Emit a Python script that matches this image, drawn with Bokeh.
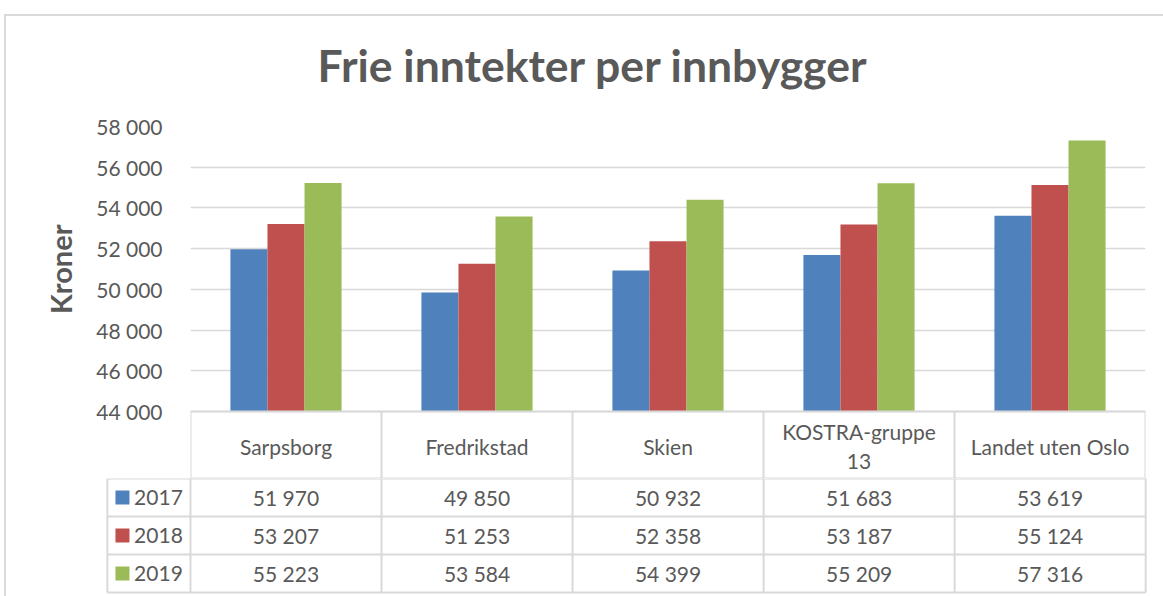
from bokeh.plotting import figure
from bokeh.models import (Range1d, FactorRange, FixedTicker, CustomJSTickFormatter,
                          ColumnDataSource, Title, InlineStyleSheet)
from bokeh.transform import dodge
from bokeh.core.properties import value
from bokeh.embed import file_html
from bokeh.resources import INLINE

# ---------------- data ----------------
title_text = "Frie inntekter per innbygger"
y_label = "Kroner"
categories = ["Sarpsborg", "Fredrikstad", "Skien", "KOSTRA-gruppe 13", "Landet uten Oslo"]
header_labels = ["Sarpsborg", "Fredrikstad", "Skien", "KOSTRA-gruppe\n13", "Landet uten Oslo"]
years = ["2017", "2018", "2019"]
v2017 = [51970, 49850, 50932, 51683, 53619]
v2018 = [53207, 51253, 52358, 53187, 55124]
v2019 = [55223, 53584, 54399, 55209, 57316]
y_ticks = [44000, 46000, 48000, 50000, 52000, 54000, 56000, 58000]

series = [v2017, v2018, v2019]
colors = ["#4f81bd", "#c0504d", "#9bbb59"]
TXT = "#595959"
GRID = "#d9d9d9"
FONT = "Lato"

# ---------------- geometry (pixels) ----------------
W = 1163
top_px = 126          # top of plot area
plot_h = 285          # height of value area
head_h = 67           # table header row
row_h = 38            # table data rows
H1 = top_px + plot_h + head_h
H2 = 596 - H1
y_lo = y_ticks[0] - head_h * (y_ticks[-1] - y_ticks[0]) / plot_h

border1 = InlineStyleSheet(css=""":host { position: relative; }
:host::after { content: ""; position: absolute; left: 4px; top: 14px; right: -20px; bottom: -20px;
  border-left: 2px solid #d9d9d9; border-top: 2px solid #d9d9d9; pointer-events: none; z-index: 5; }""")
border2 = InlineStyleSheet(css=""":host { position: relative; }
:host::after { content: ""; position: absolute; left: 4px; top: 0px; width: 0px; bottom: 0px;
  border-left: 2px solid #d9d9d9; pointer-events: none; z-index: 5; }""")

# ---------------- chart + header row ----------------
p = figure(width=W, height=H1, x_range=FactorRange(*categories, range_padding=0, factor_padding=0),
           y_range=Range1d(y_lo, y_ticks[-1]), output_backend="svg",
           toolbar_location=None, x_axis_location=None,
           min_border_left=190, min_border_right=18, min_border_top=top_px, min_border_bottom=0,
           stylesheets=[border1])
p.extra_y_ranges = {"tbl": Range1d(head_h, -plot_h)}
p.outline_line_color = None
p.xgrid.grid_line_color = None
p.ygrid.grid_line_color = GRID
p.ygrid.grid_line_width = 1.5
p.yaxis.ticker = FixedTicker(ticks=y_ticks)
p.yaxis.formatter = CustomJSTickFormatter(code="return tick.toFixed(0).replace(/\\B(?=(\\d{3})+(?!\\d))/g, ' ');")
p.yaxis.axis_line_color = None
p.yaxis.major_tick_line_color = None
p.yaxis.minor_tick_line_color = None
p.yaxis.major_tick_out = 0
p.yaxis.major_tick_in = 0
p.yaxis.major_label_standoff = 28
p.yaxis.major_label_text_font = FONT
p.yaxis.major_label_text_font_size = "21px"
p.yaxis.major_label_text_color = TXT

p.title = Title(text=title_text, align="left", offset=127, text_font=FONT,
                text_font_size="44.5px", text_font_style="bold", text_color=TXT, standoff=71)
p.add_layout(Title(text=y_label, align="right", offset=98, text_font=FONT,
                   text_font_size="29px", text_font_style="bold", text_color=TXT, standoff=31), "left")

src = ColumnDataSource(dict(cat=categories, v2017=v2017, v2018=v2018, v2019=v2019))
bw = 0.194
for i, (yr, col) in enumerate(zip(years, colors)):
    p.vbar(x=dodge("cat", (i - 1) * bw, range=p.x_range), top="v" + yr, bottom=y_ticks[0],
           width=bw, source=src, fill_color=col, line_color=None)

n = len(categories)
hx0, hy0, hx1, hy1 = [0, 0], [0, head_h], [n, n], [0, head_h]
for c in range(n + 1):
    hx0.append(c); hy0.append(0); hx1.append(c); hy1.append(head_h)
p.segment(x0=hx0, y0=hy0, x1=hx1, y1=hy1, line_color=GRID, line_width=2, y_range_name="tbl")
p.text(x=categories, y=[head_h / 2 + 1] * n, text=header_labels, text_align="center",
       text_baseline="middle", text_font=value(FONT), text_font_size="21px", text_color=TXT,
       text_line_height=1.15, y_range_name="tbl")

# ---------------- data rows of the table ----------------
xl = -0.45
t = figure(width=W, height=H2, x_range=Range1d(xl, n + 0.02), y_range=Range1d(H2, 0),
           output_backend="svg", toolbar_location=None, x_axis_location=None, y_axis_location=None,
           min_border_left=104, min_border_right=14, min_border_top=0, min_border_bottom=0,
           stylesheets=[border2])
t.outline_line_color = None
t.grid.grid_line_color = None

x0s, y0s, x1s, y1s = [], [], [], []
for r in range(len(years) + 1):
    yy = r * row_h
    x0s.append(xl + 0.015); y0s.append(yy); x1s.append(n); y1s.append(yy)
x0s.append(xl + 0.015); y0s.append(0); x1s.append(xl + 0.015); y1s.append(len(years) * row_h)
for c in range(n + 1):
    x0s.append(c); y0s.append(0); x1s.append(c); y1s.append(len(years) * row_h)
t.segment(x0=x0s, y0=y0s, x1=x1s, y1=y1s, line_color=GRID, line_width=2)

centers = [c + 0.5 for c in range(n)]

def fmt(v):
    return f"{v:,}".replace(",", " ")

for r, (yr, vals, col) in enumerate(zip(years, series, colors)):
    yc = r * row_h + row_h / 2
    t.text(x=centers, y=[yc] * n, text=[fmt(v) for v in vals], text_align="center",
           text_baseline="middle", text_font=value(FONT), text_font_size="21px", text_color=TXT)
    t.scatter(x=[-0.356], y=[yc], marker="square", size=14, fill_color=col, line_color=None)
    t.text(x=[-0.295], y=[yc], text=[yr], text_align="left", text_baseline="middle",
           text_font=value(FONT), text_font_size="21px", text_color=TXT)

open("out.html", "w").write(file_html([p, t], INLINE))
